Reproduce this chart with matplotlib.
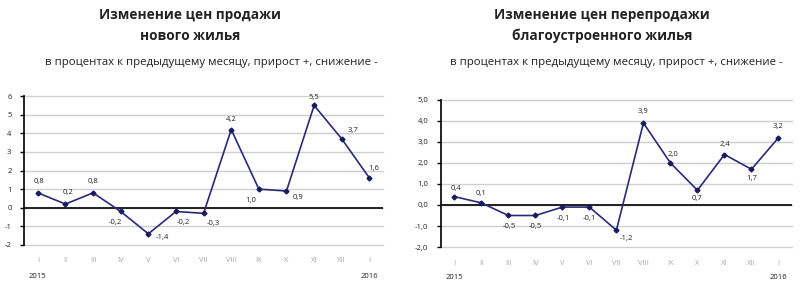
import matplotlib
matplotlib.use('Agg')
import matplotlib.pyplot as plt

#Chart data
months = ['I', 'II', 'III', 'IV', 'V', 'VI', 'VII', 'VIII', 'IX', 'X', 'XI', 'XII', 'I']
newHousing = [0.8, 0.2, 0.8, -0.2, -1.4, -0.2, -0.3, 4.2, 1.0, 0.9, 5.5, 3.7, 1.6]
resaleHousing = [0.4, 0.1, -0.5, -0.5, -0.1, -0.1, -1.2, 3.9, 2.0, 0.7, 2.4, 1.7, 3.2]
leftTicks = [-2, -1, 0, 1, 2, 3, 4, 5, 6]
rightTicks = [-2, -1, 0, 1, 2, 3, 4, 5]
years = ['2015', '2016']
titleLeft = 'Изменение цен продажи\nнового жилья'
titleRight = 'Изменение цен перепродажи\nблагоустроенного жилья'
subtitle = 'в процентах к предыдущему месяцу, прирост +, снижение -'

#Label offsets (points) for each data label
leftOffsets = [(1, 8), (2, 8), (0, 8), (-4, -8), (10, -3), (5, -8), (7, -7), (0, 7),
               (-6, -8), (8, -5), (0, 6), (8, 6), (3, 7)]
rightOffsets = [(1, 6), (0, 7), (1, -8), (0, -8), (1, -8), (0, -8), (7, -6), (0, 8),
                (2, 6), (0, -6), (0, 7), (0, -7), (0, 8)]

lineColor = '#2a2a78'
font = ['Open Sans', 'DejaVu Sans']
plt.rcParams['font.family'] = font

fig = plt.figure(figsize=(8, 2.92), dpi=100)


def drawChart(rect, values, ticks, offsets, decimals, title, titleX, subX):
    ax = fig.add_axes(rect)
    x = range(len(values))
    ax.plot(x, values, color=lineColor, linewidth=1.2, marker='D', markersize=2.5,
            markerfacecolor='#1a1a60', markeredgecolor='#1a1a60', zorder=3)
    for i, v in enumerate(values):
        label = ('%.1f' % v).replace('.', ',')
        ax.annotate(label, (i, v), xytext=offsets[i], textcoords='offset points',
                    ha='center', va='center', fontsize=5.5, color='#222222')
    ax.set_xlim(-0.5, len(values) - 0.5)
    ax.set_ylim(ticks[0], ticks[-1])
    ax.set_yticks(ticks)
    if decimals:
        ax.set_yticklabels([('%.1f' % t).replace('.', ',') for t in ticks])
    else:
        ax.set_yticklabels([str(t) for t in ticks])
    ax.set_xticks(list(x))
    ax.set_xticklabels(months)
    ax.tick_params(axis='x', length=0, labelsize=5.5, labelcolor='#a8a8a8', pad=9)
    ax.tick_params(axis='y', length=3, width=1, labelsize=5.5, labelcolor='#222222', pad=6)
    ax.grid(axis='y', color='#cfcfcf', linewidth=1)
    for g in ax.get_ygridlines():
        g.set_clip_on(False)
    ax.axhline(0, color='#111111', linewidth=1.3)
    for side in ['top', 'right', 'bottom']:
        ax.spines[side].set_visible(False)
    ax.spines['left'].set_linewidth(1.3)
    ax.spines['left'].set_color('#111111')
    ax.spines['left'].set_zorder(4)
    #Year labels under the first and last month
    yearTrans = ax.get_xaxis_transform()
    ax.text(0, -0.21, years[0], transform=yearTrans, fontsize=5.5, color='#222222',
            ha='center', va='center')
    ax.text(len(values) - 1, -0.21, years[1], transform=yearTrans, fontsize=5.5,
            color='#222222', ha='center', va='center')
    fig.text(titleX, 0.912, title, ha='center', va='center', fontsize=9.8,
             fontweight='bold', color='#222222', linespacing=1.6)
    fig.text(subX, 0.787, subtitle, ha='left', va='center', fontsize=8.2, color='#222222')
    return ax


drawChart([0.03, 0.161, 0.449, 0.510], newHousing, leftTicks, leftOffsets, False,
          titleLeft, 0.2375, 0.056)
drawChart([0.551, 0.154, 0.439, 0.504], resaleHousing, rightTicks, rightOffsets, True,
          titleRight, 0.7525, 0.5625)

fig.savefig('out.png', dpi=100)
